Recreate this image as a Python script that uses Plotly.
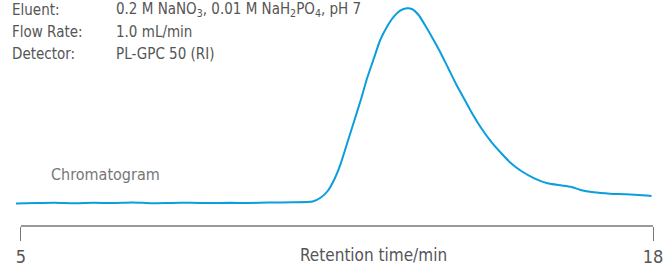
import plotly.graph_objects as go

# Retention time (min) and detector signal (arbitrary units)
retention_time = [4.9, 5.3, 5.7, 6.1, 6.5, 6.9, 7.3, 7.7, 8.1, 8.5, 8.9, 9.3, 9.7, 10.1,
                  10.59, 11.0, 11.17, 11.31, 11.44, 11.58, 11.71, 11.85, 11.99, 12.12, 12.26,
                  12.39, 12.53, 12.67, 12.80, 12.94, 13.04, 13.18, 13.31, 13.45, 13.62, 13.79,
                  13.96, 14.13, 14.30, 14.47, 14.67, 14.88, 15.08, 15.29, 15.56, 15.83, 16.10,
                  16.31, 16.51, 16.78, 17.12, 17.46, 17.97]
signal = [-0.5, 0.0, 0.3, -0.2, 0.2, 0.0, 0.6, -0.3, 0.1, 0.3, -0.1, 0.2, 0.0, 0.4,
          0.7, 1.5, 5.5, 12.0, 23, 39.7, 59.7, 81.3, 103, 124.7, 144.7,
          163, 176.3, 186.3, 192.3, 194.7, 194, 188, 178, 166.3, 151.3, 134.7,
          118, 103, 88, 74.7, 61.3, 49.7, 39.7, 32, 24.7, 19.7, 17.7,
          16.3, 13, 10.7, 9.3, 8.7, 7]

eluent_lines = [
    ("Eluent:", "0.2 M NaNO<sub>3</sub>, 0.01 M NaH<sub>2</sub>PO<sub>4</sub>, pH 7"),
    ("Flow Rate:", "1.0 mL/min"),
    ("Detector:", "PL-GPC 50 (RI)"),
]
x_ticks = [5, 18]
x_title = "Retention time/min"
trace_label = "Chromatogram"

FONT = "Liberation Sans Narrow, DejaVu Sans Condensed, Arial Narrow, sans-serif"
TXT = "#555555"

fig = go.Figure()
fig.add_trace(go.Scatter(x=retention_time, y=signal, mode="lines",
                         line=dict(color="#0a9edc", width=2, shape="spline", smoothing=0.5),
                         hoverinfo="skip"))

fig.update_layout(
    width=670, height=268,
    margin=dict(l=16, r=17, t=0, b=42),
    paper_bgcolor="white", plot_bgcolor="white",
    showlegend=False,
    font=dict(family=FONT, color=TXT, size=15),
    xaxis=dict(range=[4.9, 18.0], tickvals=x_ticks, ticktext=[str(v) for v in x_ticks],
               ticks="outside", ticklen=14, tickwidth=1.3, tickcolor="#777777",
               showgrid=False, zeroline=False, showline=False,
               tickfont=dict(family=FONT, size=18, color=TXT)),
    yaxis=dict(range=[-23, 203], visible=False, showgrid=False, zeroline=False),
)

# axis baseline bracket
fig.add_shape(type="line", xref="x", yref="paper", x0=x_ticks[0], x1=x_ticks[-1], y0=0, y1=0,
              line=dict(color="#777777", width=1.3))

fig.add_annotation(text=x_title, xref="paper", yref="paper", x=0.561, y=-29 / 226,
                   xanchor="center", yanchor="middle", showarrow=False,
                   font=dict(family=FONT, size=17, color=TXT))

fig.add_annotation(text=trace_label, xref="paper", yref="paper", x=0.052, y=0.23,
                   xanchor="left", yanchor="middle", showarrow=False,
                   font=dict(family=FONT, size=16, color="#777777"))

row_centers = [9.5, 31.8, 54]  # pixel centres from top of the page
for (k, v), yc in zip(eluent_lines, row_centers):
    yp = (226 - yc) / 226
    fig.add_annotation(text=k, xref="paper", yref="paper", x=-0.009, y=yp,
                       xanchor="left", yanchor="middle", showarrow=False,
                       font=dict(family=FONT, size=15, color=TXT))
    fig.add_annotation(text=v, xref="paper", yref="paper", x=(114 - 16) / 637, y=yp,
                       xanchor="left", yanchor="middle", showarrow=False,
                       font=dict(family=FONT, size=15, color=TXT))

fig.write_html("out.html", config={"displayModeBar": False},
               post_script="document.body.style.margin='0';document.body.style.overflow='hidden';")
